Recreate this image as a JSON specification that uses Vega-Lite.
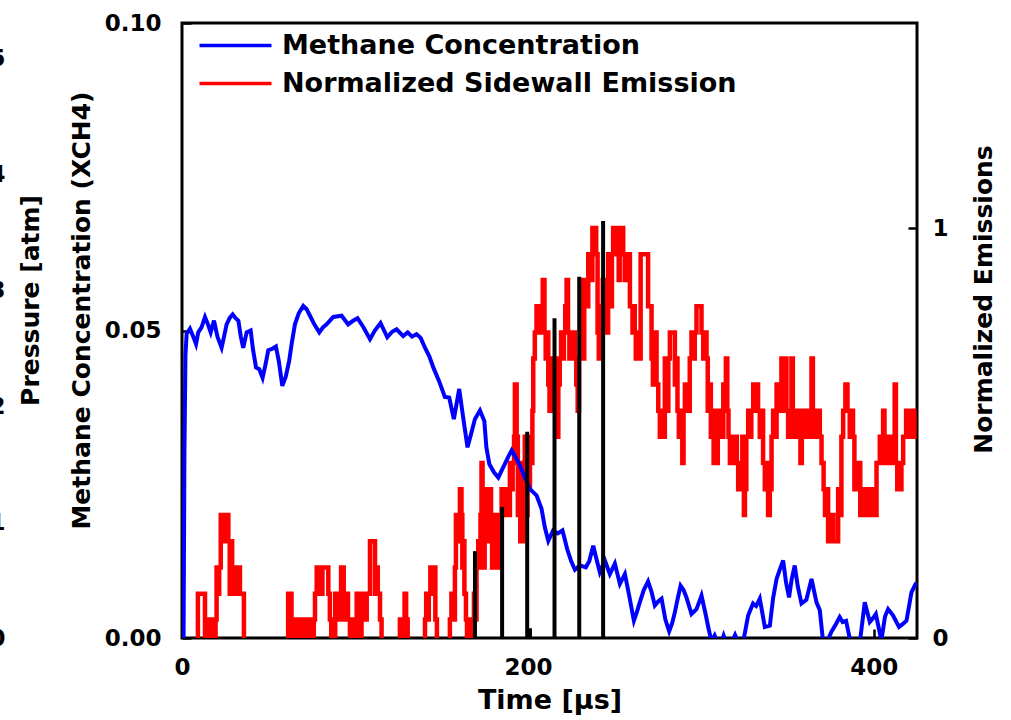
{
  "$schema": "https://vega.github.io/schema/vega-lite/v6.json",
  "width": 735,
  "height": 615,
  "autosize": {"type": "none"},
  "padding": {"left": 182, "top": 23, "right": 94, "bottom": 82},
  "background": "white",
  "datasets": {
    "methane": [
      {"t": 0.9, "m": -0.0005}, {"t": 1.4, "m": 0.03}, {"t": 2.0, "m": 0.046}, {"t": 2.7, "m": 0.0495},
      {"t": 4.6, "m": 0.0503}, {"t": 6.5, "m": 0.049}, {"t": 8.1, "m": 0.0478}, {"t": 9.4, "m": 0.0497},
      {"t": 11.3, "m": 0.0505}, {"t": 13.3, "m": 0.0522}, {"t": 15.0, "m": 0.051}, {"t": 16.6, "m": 0.0497},
      {"t": 18.5, "m": 0.0516}, {"t": 20.5, "m": 0.049}, {"t": 22.9, "m": 0.0472}, {"t": 24.3, "m": 0.049},
      {"t": 25.8, "m": 0.051}, {"t": 27.5, "m": 0.052}, {"t": 29.3, "m": 0.0526}, {"t": 31.0, "m": 0.052},
      {"t": 32.6, "m": 0.0516}, {"t": 34.0, "m": 0.049}, {"t": 35.4, "m": 0.0472}, {"t": 37.4, "m": 0.0497},
      {"t": 39.7, "m": 0.05}, {"t": 41.0, "m": 0.047}, {"t": 42.8, "m": 0.044}, {"t": 44.7, "m": 0.0437},
      {"t": 46.6, "m": 0.0423}, {"t": 48.3, "m": 0.0445}, {"t": 49.9, "m": 0.0468}, {"t": 52.0, "m": 0.047},
      {"t": 54.3, "m": 0.0474}, {"t": 56.0, "m": 0.045}, {"t": 58.0, "m": 0.041}, {"t": 60.0, "m": 0.0425},
      {"t": 62.0, "m": 0.0451}, {"t": 63.5, "m": 0.048}, {"t": 65.3, "m": 0.051}, {"t": 67.5, "m": 0.0528},
      {"t": 70.1, "m": 0.054}, {"t": 72.0, "m": 0.0535}, {"t": 74.0, "m": 0.0524}, {"t": 76.5, "m": 0.051},
      {"t": 79.4, "m": 0.0497}, {"t": 81.5, "m": 0.0505}, {"t": 83.6, "m": 0.051}, {"t": 87.5, "m": 0.0522},
      {"t": 92.3, "m": 0.0524}, {"t": 96.1, "m": 0.051}, {"t": 98.5, "m": 0.0515}, {"t": 101.5, "m": 0.052},
      {"t": 105.0, "m": 0.0505}, {"t": 108.7, "m": 0.0486}, {"t": 111.5, "m": 0.05}, {"t": 114.8, "m": 0.0512},
      {"t": 118.7, "m": 0.0489}, {"t": 121.5, "m": 0.0498}, {"t": 124.1, "m": 0.0502}, {"t": 127.9, "m": 0.0491},
      {"t": 130.5, "m": 0.0497}, {"t": 133.0, "m": 0.049}, {"t": 135.6, "m": 0.0494}, {"t": 138.0, "m": 0.0488},
      {"t": 140.5, "m": 0.0472}, {"t": 143.0, "m": 0.0458}, {"t": 145.3, "m": 0.044}, {"t": 148.6, "m": 0.0418},
      {"t": 152.0, "m": 0.0392}, {"t": 154.5, "m": 0.0391}, {"t": 157.2, "m": 0.0356}, {"t": 160.3, "m": 0.0405},
      {"t": 162.5, "m": 0.036}, {"t": 165.1, "m": 0.031}, {"t": 167.0, "m": 0.033}, {"t": 169.4, "m": 0.0356},
      {"t": 172.3, "m": 0.037}, {"t": 174.8, "m": 0.0353}, {"t": 176.0, "m": 0.031}, {"t": 177.7, "m": 0.0283},
      {"t": 180.5, "m": 0.0269}, {"t": 182.9, "m": 0.0261}, {"t": 184.8, "m": 0.0272}, {"t": 186.7, "m": 0.0283},
      {"t": 188.7, "m": 0.0295}, {"t": 190.6, "m": 0.0305}, {"t": 193.5, "m": 0.0291}, {"t": 195.5, "m": 0.028},
      {"t": 197.3, "m": 0.0267}, {"t": 199.2, "m": 0.0255}, {"t": 201.2, "m": 0.0242}, {"t": 205.0, "m": 0.0232},
      {"t": 207.9, "m": 0.021}, {"t": 209.8, "m": 0.018}, {"t": 211.8, "m": 0.0158}, {"t": 214.6, "m": 0.0175},
      {"t": 217.3, "m": 0.017}, {"t": 220.0, "m": 0.0175}, {"t": 222.7, "m": 0.0145}, {"t": 225.0, "m": 0.0125},
      {"t": 227.2, "m": 0.0111}, {"t": 230.0, "m": 0.0118}, {"t": 233.5, "m": 0.0115}, {"t": 235.5, "m": 0.0125},
      {"t": 237.8, "m": 0.015}, {"t": 239.5, "m": 0.013}, {"t": 241.6, "m": 0.0107}, {"t": 244.5, "m": 0.0126},
      {"t": 247.4, "m": 0.0104}, {"t": 250.3, "m": 0.0121}, {"t": 253.2, "m": 0.0088}, {"t": 256.1, "m": 0.0104},
      {"t": 258.5, "m": 0.007}, {"t": 261.3, "m": 0.0028}, {"t": 263.0, "m": 0.0042}, {"t": 264.7, "m": 0.0058},
      {"t": 267.0, "m": 0.0078}, {"t": 269.5, "m": 0.0092}, {"t": 271.5, "m": 0.0075}, {"t": 273.4, "m": 0.0053},
      {"t": 275.5, "m": 0.006}, {"t": 277.3, "m": 0.0064}, {"t": 279.5, "m": 0.003}, {"t": 281.7, "m": 0.0011},
      {"t": 283.5, "m": 0.0025}, {"t": 285.0, "m": 0.0042}, {"t": 286.7, "m": 0.0065}, {"t": 288.3, "m": 0.0085},
      {"t": 290.0, "m": 0.0078}, {"t": 291.7, "m": 0.0066}, {"t": 294.6, "m": 0.0039}, {"t": 297.5, "m": 0.0047},
      {"t": 300.4, "m": 0.0069}, {"t": 302.9, "m": 0.0037}, {"t": 304.5, "m": 0.0015}, {"t": 306.2, "m": -0.0006},
      {"t": 308.0, "m": 0.0004}, {"t": 309.5, "m": -0.0006}, {"t": 312.0, "m": -0.0006}, {"t": 313.2, "m": 0.0004},
      {"t": 314.5, "m": -0.0006}, {"t": 318.0, "m": -0.0006}, {"t": 319.8, "m": 0.0005}, {"t": 321.5, "m": -0.0006},
      {"t": 324.5, "m": -0.0006}, {"t": 327.4, "m": 0.0037}, {"t": 330.2, "m": 0.0056}, {"t": 332.0, "m": 0.0052},
      {"t": 334.1, "m": 0.0064}, {"t": 337.0, "m": 0.0018}, {"t": 339.9, "m": 0.002}, {"t": 341.8, "m": 0.0065},
      {"t": 343.8, "m": 0.0096}, {"t": 345.5, "m": 0.011}, {"t": 347.6, "m": 0.0126}, {"t": 349.3, "m": 0.009},
      {"t": 351.0, "m": 0.0066}, {"t": 352.5, "m": 0.0095}, {"t": 354.3, "m": 0.0118}, {"t": 356.0, "m": 0.0085},
      {"t": 358.2, "m": 0.0056}, {"t": 361.0, "m": 0.0062}, {"t": 364.0, "m": 0.0096}, {"t": 366.9, "m": 0.0058},
      {"t": 368.8, "m": 0.0045}, {"t": 370.7, "m": -0.0006}, {"t": 373.0, "m": -0.0006}, {"t": 375.5, "m": 0.001},
      {"t": 378.0, "m": 0.0022}, {"t": 380.3, "m": 0.0034}, {"t": 382.0, "m": 0.0026}, {"t": 384.0, "m": 0.0028},
      {"t": 386.5, "m": -0.0006}, {"t": 389.0, "m": -0.0006}, {"t": 392.0, "m": -0.0006}, {"t": 394.8, "m": 0.0058},
      {"t": 397.7, "m": 0.0026}, {"t": 399.5, "m": 0.0032}, {"t": 401.2, "m": 0.0039}, {"t": 404.4, "m": -0.0004},
      {"t": 406.5, "m": 0.0035}, {"t": 408.3, "m": 0.0047}, {"t": 411.1, "m": 0.0037}, {"t": 414.6, "m": 0.0018},
      {"t": 416.5, "m": 0.0022}, {"t": 418.9, "m": 0.0028}, {"t": 421.8, "m": 0.0074}, {"t": 423.7, "m": 0.0085},
      {"t": 424.6, "m": 0.009}
    ],
    "emission": [
      {"t": 0, "e": -0.019}, {"t": 9.2, "e": 0.108}, {"t": 13.3, "e": -0.019}, {"t": 13.9, "e": 0.045},
      {"t": 14.6, "e": -0.019}, {"t": 15.3, "e": 0.045}, {"t": 16.0, "e": -0.019}, {"t": 16.7, "e": 0.045},
      {"t": 17.4, "e": -0.019}, {"t": 18.1, "e": 0.045}, {"t": 18.8, "e": -0.019}, {"t": 19.4, "e": 0.045},
      {"t": 20.0, "e": 0.172}, {"t": 20.8, "e": 0.108}, {"t": 21.5, "e": 0.172}, {"t": 22.4, "e": 0.3},
      {"t": 24.0, "e": 0.236}, {"t": 24.6, "e": 0.3}, {"t": 26.8, "e": 0.236}, {"t": 27.6, "e": 0.108},
      {"t": 28.3, "e": 0.236}, {"t": 29.0, "e": 0.108}, {"t": 29.7, "e": 0.172}, {"t": 30.5, "e": 0.108},
      {"t": 31.3, "e": 0.172}, {"t": 32.0, "e": 0.108}, {"t": 32.6, "e": 0.172}, {"t": 33.5, "e": 0.108},
      {"t": 35.8, "e": -0.019},
      {"t": 61.4, "e": 0.108}, {"t": 63.3, "e": 0.045}, {"t": 64.0, "e": -0.019}, {"t": 64.8, "e": 0.045},
      {"t": 65.5, "e": -0.019}, {"t": 66.4, "e": 0.045}, {"t": 67.2, "e": -0.019}, {"t": 68.0, "e": 0.045},
      {"t": 68.8, "e": -0.019}, {"t": 69.6, "e": 0.045}, {"t": 70.5, "e": -0.019}, {"t": 71.3, "e": 0.045},
      {"t": 72.1, "e": -0.019}, {"t": 73.0, "e": 0.045}, {"t": 73.8, "e": -0.019}, {"t": 74.6, "e": 0.045},
      {"t": 75.4, "e": -0.019}, {"t": 76.2, "e": 0.045}, {"t": 76.9, "e": 0.108}, {"t": 77.9, "e": 0.172},
      {"t": 80.5, "e": 0.108}, {"t": 81.2, "e": 0.172}, {"t": 84.6, "e": 0.108}, {"t": 85.5, "e": 0.045},
      {"t": 86.3, "e": -0.019}, {"t": 87.0, "e": 0.045}, {"t": 87.8, "e": -0.019}, {"t": 88.6, "e": 0.108},
      {"t": 89.4, "e": 0.045}, {"t": 90.2, "e": 0.108}, {"t": 91.0, "e": 0.045}, {"t": 92.0, "e": 0.172},
      {"t": 93.5, "e": 0.108}, {"t": 94.5, "e": 0.045}, {"t": 95.3, "e": 0.108}, {"t": 96.0, "e": 0.045},
      {"t": 97.1, "e": -0.019}, {"t": 97.8, "e": 0.045}, {"t": 98.6, "e": -0.019}, {"t": 99.3, "e": 0.045},
      {"t": 100.1, "e": -0.019}, {"t": 101.0, "e": 0.108}, {"t": 102.3, "e": 0.045}, {"t": 103.0, "e": -0.019},
      {"t": 103.8, "e": 0.045}, {"t": 104.8, "e": 0.108}, {"t": 106.0, "e": 0.045}, {"t": 106.8, "e": 0.108},
      {"t": 108.7, "e": 0.236}, {"t": 111.6, "e": 0.108}, {"t": 112.5, "e": 0.172}, {"t": 113.2, "e": 0.108},
      {"t": 114.5, "e": 0.045}, {"t": 115.4, "e": -0.019},
      {"t": 126.0, "e": 0.045}, {"t": 127.3, "e": -0.019}, {"t": 128.0, "e": 0.045}, {"t": 128.7, "e": 0.108},
      {"t": 129.6, "e": 0.045}, {"t": 130.5, "e": -0.019},
      {"t": 140.5, "e": 0.045}, {"t": 141.2, "e": 0.108}, {"t": 142.0, "e": 0.045}, {"t": 142.7, "e": 0.108},
      {"t": 143.6, "e": 0.172}, {"t": 145.1, "e": 0.108}, {"t": 145.8, "e": 0.172}, {"t": 146.5, "e": 0.045},
      {"t": 147.4, "e": -0.019},
      {"t": 154.9, "e": 0.045}, {"t": 155.8, "e": 0.108}, {"t": 156.6, "e": 0.045}, {"t": 157.8, "e": 0.172},
      {"t": 158.4, "e": 0.3}, {"t": 159.0, "e": 0.236}, {"t": 159.7, "e": 0.3}, {"t": 160.7, "e": 0.363},
      {"t": 161.6, "e": 0.3}, {"t": 162.1, "e": 0.172}, {"t": 162.7, "e": 0.236}, {"t": 163.3, "e": 0.108},
      {"t": 164.2, "e": 0.045}, {"t": 164.8, "e": -0.019}, {"t": 165.4, "e": 0.045}, {"t": 166.0, "e": -0.019},
      {"t": 166.6, "e": 0.045}, {"t": 167.3, "e": -0.019}, {"t": 167.9, "e": 0.045}, {"t": 168.8, "e": 0.108},
      {"t": 169.8, "e": 0.045}, {"t": 170.3, "e": 0.172}, {"t": 171.3, "e": 0.236}, {"t": 172.0, "e": 0.172},
      {"t": 172.6, "e": 0.3}, {"t": 173.2, "e": 0.427}, {"t": 173.8, "e": 0.3}, {"t": 174.4, "e": 0.172},
      {"t": 175.0, "e": 0.363}, {"t": 175.8, "e": 0.3}, {"t": 176.5, "e": 0.363}, {"t": 177.2, "e": 0.236},
      {"t": 178.0, "e": 0.363}, {"t": 178.7, "e": 0.3}, {"t": 179.3, "e": 0.172}, {"t": 180.2, "e": 0.3},
      {"t": 181.0, "e": 0.172}, {"t": 181.8, "e": 0.3}, {"t": 182.5, "e": 0.172}, {"t": 183.4, "e": 0.236},
      {"t": 184.2, "e": 0.3}, {"t": 184.8, "e": 0.363}, {"t": 185.6, "e": 0.3}, {"t": 186.4, "e": 0.363},
      {"t": 187.2, "e": 0.3}, {"t": 188.0, "e": 0.363}, {"t": 188.8, "e": 0.3}, {"t": 189.6, "e": 0.427},
      {"t": 190.5, "e": 0.363}, {"t": 191.2, "e": 0.427}, {"t": 192.0, "e": 0.491}, {"t": 192.5, "e": 0.618},
      {"t": 193.5, "e": 0.491}, {"t": 194.2, "e": 0.3}, {"t": 194.9, "e": 0.427}, {"t": 195.6, "e": 0.236},
      {"t": 196.3, "e": 0.363}, {"t": 197.0, "e": 0.236}, {"t": 197.5, "e": 0.363}, {"t": 198.2, "e": 0.491},
      {"t": 199.0, "e": 0.3}, {"t": 199.8, "e": 0.427}, {"t": 200.5, "e": 0.363}, {"t": 201.2, "e": 0.491},
      {"t": 202.0, "e": 0.427}, {"t": 202.6, "e": 0.554}, {"t": 203.1, "e": 0.682}, {"t": 204.0, "e": 0.745},
      {"t": 205.0, "e": 0.809}, {"t": 205.7, "e": 0.745}, {"t": 206.4, "e": 0.809}, {"t": 207.2, "e": 0.745},
      {"t": 208.0, "e": 0.809}, {"t": 208.6, "e": 0.873}, {"t": 209.6, "e": 0.745}, {"t": 210.3, "e": 0.682},
      {"t": 211.0, "e": 0.745}, {"t": 211.8, "e": 0.618}, {"t": 212.5, "e": 0.554}, {"t": 213.2, "e": 0.682},
      {"t": 214.0, "e": 0.618}, {"t": 214.8, "e": 0.682}, {"t": 215.5, "e": 0.554}, {"t": 216.2, "e": 0.682},
      {"t": 216.9, "e": 0.491}, {"t": 217.6, "e": 0.618}, {"t": 218.4, "e": 0.682}, {"t": 219.2, "e": 0.745},
      {"t": 220.0, "e": 0.682}, {"t": 220.8, "e": 0.745}, {"t": 221.6, "e": 0.809}, {"t": 222.4, "e": 0.873},
      {"t": 223.2, "e": 0.745}, {"t": 224.0, "e": 0.682}, {"t": 224.8, "e": 0.745}, {"t": 225.6, "e": 0.682},
      {"t": 226.4, "e": 0.745}, {"t": 227.2, "e": 0.682}, {"t": 228.0, "e": 0.618}, {"t": 228.8, "e": 0.554},
      {"t": 229.6, "e": 0.682}, {"t": 230.3, "e": 0.745}, {"t": 231.0, "e": 0.873}, {"t": 231.8, "e": 0.682},
      {"t": 232.6, "e": 0.809}, {"t": 233.4, "e": 0.873}, {"t": 234.3, "e": 0.809}, {"t": 234.9, "e": 0.936},
      {"t": 236.5, "e": 0.873}, {"t": 237.3, "e": 1.0}, {"t": 239.5, "e": 0.936}, {"t": 240.3, "e": 0.745},
      {"t": 241.0, "e": 0.682}, {"t": 241.8, "e": 0.809}, {"t": 242.5, "e": 0.745}, {"t": 243.3, "e": 0.873},
      {"t": 244.2, "e": 0.809}, {"t": 245.0, "e": 0.873}, {"t": 245.8, "e": 0.745}, {"t": 246.4, "e": 0.936},
      {"t": 247.2, "e": 0.873}, {"t": 247.9, "e": 0.809}, {"t": 248.6, "e": 0.936}, {"t": 249.3, "e": 1.0},
      {"t": 251.0, "e": 0.936}, {"t": 251.6, "e": 1.0}, {"t": 252.5, "e": 0.873}, {"t": 253.1, "e": 1.0},
      {"t": 255.1, "e": 0.936}, {"t": 256.0, "e": 0.873}, {"t": 256.8, "e": 0.936}, {"t": 257.6, "e": 0.873},
      {"t": 258.4, "e": 0.936}, {"t": 259.0, "e": 0.809}, {"t": 260.5, "e": 0.745}, {"t": 261.2, "e": 0.809},
      {"t": 261.8, "e": 0.745}, {"t": 262.4, "e": 0.682}, {"t": 263.2, "e": 0.745}, {"t": 264.0, "e": 0.682},
      {"t": 265.2, "e": 0.936}, {"t": 269.5, "e": 0.809}, {"t": 271.5, "e": 0.682}, {"t": 272.3, "e": 0.618},
      {"t": 273.3, "e": 0.745}, {"t": 274.4, "e": 0.618}, {"t": 275.4, "e": 0.554}, {"t": 276.3, "e": 0.491},
      {"t": 277.3, "e": 0.554}, {"t": 278.2, "e": 0.491}, {"t": 279.2, "e": 0.682}, {"t": 280.5, "e": 0.554},
      {"t": 281.2, "e": 0.682}, {"t": 282.1, "e": 0.745}, {"t": 285.0, "e": 0.618}, {"t": 285.8, "e": 0.682},
      {"t": 286.5, "e": 0.554}, {"t": 287.3, "e": 0.491}, {"t": 288.2, "e": 0.554}, {"t": 289.3, "e": 0.427},
      {"t": 290.0, "e": 0.554}, {"t": 290.8, "e": 0.618}, {"t": 292.8, "e": 0.554}, {"t": 293.6, "e": 0.682},
      {"t": 294.6, "e": 0.745}, {"t": 295.5, "e": 0.682}, {"t": 296.5, "e": 0.745}, {"t": 297.5, "e": 0.809},
      {"t": 300.4, "e": 0.745}, {"t": 301.4, "e": 0.682}, {"t": 302.3, "e": 0.745}, {"t": 303.3, "e": 0.682},
      {"t": 304.0, "e": 0.554}, {"t": 305.0, "e": 0.618}, {"t": 305.8, "e": 0.491}, {"t": 306.6, "e": 0.554},
      {"t": 307.4, "e": 0.427}, {"t": 308.2, "e": 0.491}, {"t": 309.0, "e": 0.427}, {"t": 309.8, "e": 0.554},
      {"t": 310.6, "e": 0.491}, {"t": 311.4, "e": 0.554}, {"t": 312.2, "e": 0.491}, {"t": 313.0, "e": 0.618},
      {"t": 313.8, "e": 0.554}, {"t": 314.5, "e": 0.682}, {"t": 315.3, "e": 0.554}, {"t": 316.0, "e": 0.491},
      {"t": 316.8, "e": 0.427}, {"t": 318.2, "e": 0.491}, {"t": 319.0, "e": 0.427}, {"t": 320.0, "e": 0.491},
      {"t": 320.8, "e": 0.427}, {"t": 321.6, "e": 0.363}, {"t": 322.5, "e": 0.427}, {"t": 323.2, "e": 0.363},
      {"t": 324.0, "e": 0.491}, {"t": 324.9, "e": 0.3}, {"t": 325.5, "e": 0.363}, {"t": 326.3, "e": 0.491},
      {"t": 327.4, "e": 0.554}, {"t": 328.3, "e": 0.491}, {"t": 329.2, "e": 0.554}, {"t": 330.3, "e": 0.618},
      {"t": 331.2, "e": 0.554}, {"t": 332.2, "e": 0.618}, {"t": 333.1, "e": 0.554}, {"t": 334.1, "e": 0.491},
      {"t": 335.0, "e": 0.554}, {"t": 336.0, "e": 0.427}, {"t": 337.0, "e": 0.363}, {"t": 337.8, "e": 0.427},
      {"t": 338.9, "e": 0.3}, {"t": 339.9, "e": 0.363}, {"t": 340.9, "e": 0.491}, {"t": 341.8, "e": 0.554},
      {"t": 342.8, "e": 0.491}, {"t": 343.8, "e": 0.618}, {"t": 345.7, "e": 0.554}, {"t": 346.6, "e": 0.682},
      {"t": 347.4, "e": 0.554}, {"t": 348.2, "e": 0.682}, {"t": 349.5, "e": 0.554}, {"t": 350.5, "e": 0.491},
      {"t": 351.5, "e": 0.554}, {"t": 352.4, "e": 0.682}, {"t": 353.2, "e": 0.554}, {"t": 354.0, "e": 0.491},
      {"t": 354.8, "e": 0.554}, {"t": 355.6, "e": 0.491}, {"t": 356.4, "e": 0.554}, {"t": 357.6, "e": 0.427},
      {"t": 358.4, "e": 0.554}, {"t": 359.2, "e": 0.491}, {"t": 360.0, "e": 0.554}, {"t": 360.8, "e": 0.491},
      {"t": 361.6, "e": 0.554}, {"t": 362.4, "e": 0.491}, {"t": 363.2, "e": 0.554}, {"t": 364.0, "e": 0.682},
      {"t": 364.8, "e": 0.554}, {"t": 365.6, "e": 0.491}, {"t": 366.4, "e": 0.554}, {"t": 367.2, "e": 0.491},
      {"t": 368.0, "e": 0.554}, {"t": 368.8, "e": 0.491}, {"t": 369.8, "e": 0.427}, {"t": 371.0, "e": 0.363},
      {"t": 371.8, "e": 0.3}, {"t": 372.6, "e": 0.363}, {"t": 373.6, "e": 0.236}, {"t": 376.0, "e": 0.3},
      {"t": 376.7, "e": 0.236}, {"t": 379.4, "e": 0.363}, {"t": 380.3, "e": 0.3}, {"t": 381.3, "e": 0.491},
      {"t": 382.3, "e": 0.554}, {"t": 383.6, "e": 0.618}, {"t": 384.8, "e": 0.554}, {"t": 386.1, "e": 0.491},
      {"t": 387.0, "e": 0.554}, {"t": 388.0, "e": 0.491}, {"t": 388.8, "e": 0.363}, {"t": 389.6, "e": 0.427},
      {"t": 390.4, "e": 0.363}, {"t": 391.2, "e": 0.427}, {"t": 392.2, "e": 0.3}, {"t": 393.0, "e": 0.363},
      {"t": 393.8, "e": 0.3}, {"t": 394.6, "e": 0.363}, {"t": 395.4, "e": 0.3}, {"t": 396.4, "e": 0.363},
      {"t": 397.2, "e": 0.3}, {"t": 398.0, "e": 0.363}, {"t": 398.8, "e": 0.3}, {"t": 399.8, "e": 0.363},
      {"t": 400.8, "e": 0.3}, {"t": 401.6, "e": 0.427}, {"t": 403.5, "e": 0.491}, {"t": 404.4, "e": 0.427},
      {"t": 405.4, "e": 0.554}, {"t": 406.2, "e": 0.491}, {"t": 407.0, "e": 0.427}, {"t": 407.8, "e": 0.491},
      {"t": 408.6, "e": 0.427}, {"t": 409.4, "e": 0.491}, {"t": 410.2, "e": 0.427}, {"t": 411.0, "e": 0.491},
      {"t": 412.1, "e": 0.618}, {"t": 412.8, "e": 0.427}, {"t": 413.6, "e": 0.363}, {"t": 414.4, "e": 0.427},
      {"t": 415.2, "e": 0.363}, {"t": 416.0, "e": 0.427}, {"t": 417.0, "e": 0.491}, {"t": 418.7, "e": 0.554},
      {"t": 419.5, "e": 0.491}, {"t": 420.3, "e": 0.554}, {"t": 421.1, "e": 0.491}, {"t": 421.9, "e": 0.554},
      {"t": 422.7, "e": 0.491}, {"t": 423.5, "e": 0.554}, {"t": 424.6, "e": 0.554}
    ],
    "pressure": [
      {"t": 169.4, "p": 0.75},
      {"t": 185.1, "p": 1.13},
      {"t": 199.6, "p": 1.78},
      {"t": 201.2, "p": 0.084},
      {"t": 215.4, "p": 2.76},
      {"t": 229.7, "p": 3.12},
      {"t": 243.5, "p": 3.6}
    ]
  },
  "layer": [
    {
      "data": {"name": "emission"},
      "mark": {"type": "line", "interpolate": "step-after", "strokeWidth": 4.5, "clip": true},
      "encoding": {
        "x": {
          "field": "t", "type": "quantitative", "title": "Time [µs]",
          "scale": {"domain": [0, 425], "nice": false, "zero": false},
          "axis": {"values": [0, 200, 400], "format": "d", "labelPadding": 27, "labelFlush": false,
                   "titleFontSize": 27, "titleY": 49, "titleBaseline": "top"}
        },
        "y": {
          "field": "e", "type": "quantitative", "title": "Normalized Emissions",
          "scale": {"domain": [0, 1.5], "nice": false, "zero": false},
          "axis": {"orient": "right", "values": [0, 1], "format": "d", "labelPadding": 24, "labelFlush": false,
                   "titleAngle": 270, "titleX": 66, "titleY": 276, "titleAlign": "center", "titleBaseline": "middle"}
        },
        "color": {
          "datum": "Normalized Sidewall Emission", "type": "nominal",
          "scale": {"domain": ["Methane Concentration", "Normalized Sidewall Emission"], "range": ["#0000ff", "#ff0000"]}
        }
      }
    },
    {
      "data": {"name": "methane"},
      "mark": {"type": "line", "strokeWidth": 4, "clip": true},
      "encoding": {
        "x": {"field": "t", "type": "quantitative", "title": "Time [µs]"},
        "y": {
          "field": "m", "type": "quantitative", "title": "Methane Concentration (XCH4)",
          "scale": {"domain": [0, 0.1], "nice": false, "zero": false},
          "axis": {"orient": "left", "values": [0, 0.05, 0.1], "format": ".2f", "labelPadding": 30, "labelFlush": false,
                   "titleAngle": 270, "titleX": -101, "titleY": 287, "titleAlign": "center", "titleBaseline": "middle"}
        },
        "color": {
          "datum": "Methane Concentration", "type": "nominal",
          "scale": {"domain": ["Methane Concentration", "Normalized Sidewall Emission"], "range": ["#0000ff", "#ff0000"]}
        }
      }
    },
    {
      "data": {"name": "pressure"},
      "mark": {"type": "rule", "strokeWidth": 4, "color": "black"},
      "encoding": {
        "x": {"field": "t", "type": "quantitative", "title": "Time [µs]"},
        "y": {
          "field": "p", "type": "quantitative", "title": "Pressure [atm]",
          "scale": {"domain": [0, 5.31], "nice": false, "zero": false},
          "axis": {"orient": "left", "offset": 173, "ticks": false, "values": [0, 1, 2, 3, 4, 5], "format": "d",
                   "labelPadding": 4, "labelFlush": false,
                   "titleAngle": 270, "titleX": 21, "titleY": 277, "titleAlign": "center", "titleBaseline": "middle"}
        },
        "y2": {"datum": 0}
      }
    }
  ],
  "resolve": {"scale": {"y": "independent"}},
  "config": {
    "view": {"stroke": "black", "strokeWidth": 3},
    "axis": {
      "labelFont": "DejaVu Sans", "labelFontWeight": "bold", "labelFontSize": 23, "labelColor": "black",
      "titleFont": "DejaVu Sans", "titleFontWeight": "bold", "titleFontSize": 25, "titleColor": "black",
      "domain": false, "grid": false, "tickColor": "black", "tickWidth": 2.5, "tickSize": -9,
      "labelOverlap": false
    },
    "legend": {
      "orient": "none", "legendX": 40, "legendY": 9, "title": null, "padding": 0,
      "symbolType": "M-4,0H4", "symbolSize": 324, "symbolStrokeWidth": 3.5,
      "labelFont": "DejaVu Sans", "labelFontWeight": "bold", "labelFontSize": 27, "labelColor": "black",
      "labelOffset": 33, "rowPadding": 10, "labelLimit": 0
    }
  }
}
